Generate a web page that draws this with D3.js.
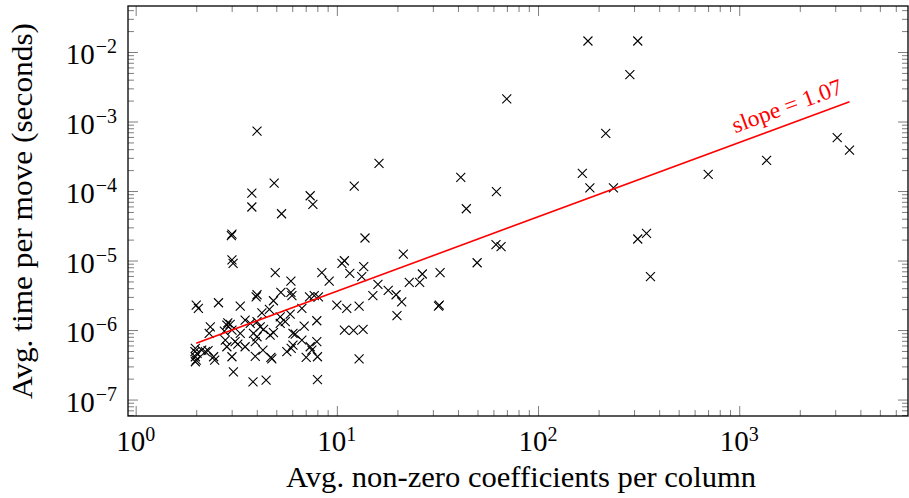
<!DOCTYPE html>
<html lang="en">
<head>
<meta charset="UTF-8">
<script src="https://cdn.jsdelivr.net/npm/d3@7"></script>
<style>
  body { margin: 0; background: #fff; }
  svg { display: block; font-family: "Liberation Serif", "DejaVu Serif", serif; }
</style>
</head>
<body>
<div id="chart"></div>
<script>
// avg. non-zero coefficients per column (x) and avg. time per move in seconds (y)
const coeffs = [
  177, 313, 286, 69.9, 217, 4.01, 16.2, 166, 181, 237,
  41.3, 62.1, 44.0, 12.2, 7.37, 7.60, 4.88, 3.78, 3.78, 5.31,
  701, 1368, 3069, 3533, 313, 346, 362, 61.8, 65.5, 49.8,
  32.6, 32.3, 32.0, 13.8, 21.4, 10.6, 10.9, 11.6, 13.6, 13.3,
  16.0, 15.1, 18.0, 19.7, 21.0, 22.9, 25.8, 26.6, 10.0, 11.2,
  12.9, 19.9, 10.9, 12.1, 13.5, 12.9, 4.94, 5.91, 5.27, 5.91,
  5.98, 4.84, 4.24, 4.62, 6.70, 8.42, 9.16, 7.31, 7.72, 8.10,
  5.23, 5.54, 5.23, 5.86, 4.16, 4.84, 4.66, 4.32, 6.05, 6.21,
  6.88, 7.95, 6.70, 6.05, 5.93, 5.64, 7.37, 7.95, 7.51, 4.29,
  4.70, 4.75, 7.04, 8.01, 4.45, 8.01, 3.01, 2.99, 3.01, 3.05,
  2.00, 2.05, 2.58, 3.31, 3.97, 4.01, 2.35, 2.87, 2.84, 2.95,
  3.50, 3.71, 4.01, 2.32, 2.76, 3.01, 3.31, 3.85, 4.01, 2.79,
  3.12, 3.22, 3.93, 2.84, 3.50, 1.98, 1.97, 2.02, 1.98, 2.13,
  2.22, 2.29, 2.44, 2.47, 2.00, 3.01, 3.93, 1.98, 3.06, 3.83
];
const times = [
  1.44e-2, 1.44e-2, 4.71e-3, 2.11e-3, 6.76e-4, 7.30e-4, 2.49e-4, 1.79e-4, 1.11e-4, 1.11e-4,
  1.57e-4, 9.77e-5, 5.56e-5, 1.18e-4, 8.55e-5, 6.44e-5, 1.30e-4, 9.35e-5, 5.89e-5, 4.71e-5,
  1.74e-4, 2.77e-4, 5.85e-4, 3.89e-4, 2.04e-5, 2.46e-5, 5.89e-6, 1.70e-5, 1.59e-5, 9.29e-6,
  6.71e-6, 2.29e-6, 2.21e-6, 2.11e-5, 1.24e-5, 9.12e-6, 9.93e-6, 6.55e-6, 8.15e-6, 5.89e-6,
  4.55e-6, 3.13e-6, 3.72e-6, 3.22e-6, 2.55e-6, 4.85e-6, 4.85e-6, 6.40e-6, 2.29e-6, 2.05e-6,
  2.21e-6, 1.61e-6, 1.00e-6, 9.9e-7, 1.02e-6, 3.86e-7, 6.71e-6, 5.07e-6, 3.48e-6, 3.48e-6,
  3.13e-6, 2.64e-6, 1.77e-6, 1.99e-6, 2.05e-6, 6.71e-6, 5.07e-6, 3.01e-6, 3.13e-6, 3.01e-6,
  1.55e-6, 1.32e-6, 1.25e-6, 1.70e-6, 1.11e-6, 9.15e-7, 8.47e-7, 1.02e-6, 8.97e-7, 8.76e-7,
  1.14e-6, 1.36e-6, 7.18e-7, 6.08e-7, 5.46e-7, 4.88e-7, 5.75e-7, 6.79e-7, 5.15e-7, 5.15e-7,
  4.05e-7, 3.86e-7, 4.05e-7, 4.13e-7, 1.91e-7, 1.94e-7, 2.40e-5, 2.28e-5, 1.02e-5, 9.12e-6,
  2.29e-6, 2.05e-6, 2.47e-6, 2.21e-6, 3.01e-6, 3.22e-6, 1.11e-6, 1.27e-6, 1.18e-6, 1.21e-6,
  1.39e-6, 1.25e-6, 1.32e-6, 8.97e-7, 9.68e-7, 1.00e-6, 8.97e-7, 8.97e-7, 8.01e-7, 7.18e-7,
  6.79e-7, 6.29e-7, 6.79e-7, 5.75e-7, 5.75e-7, 5.46e-7, 4.88e-7, 4.62e-7, 4.13e-7, 5.15e-7,
  4.88e-7, 5.04e-7, 4.13e-7, 3.70e-7, 3.70e-7, 4.13e-7, 4.19e-7, 3.50e-7, 2.51e-7, 1.80e-7
];
const xTickExps = [0, 1, 2, 3];
const yTickExps = [-7, -6, -5, -4, -3, -2];

// power-law fit  time = fitCoef * coeffs^fitSlope
const fitSlope = 1.07;
const fitCoef = 3.08e-7;
const fitRange = [2, 3533];

const width = 909, height = 498;
const margin = { top: 6, right: 1, bottom: 82, left: 128 };

const svg = d3.select("#chart").append("svg")
    .attr("width", width)
    .attr("height", height);

const x = d3.scaleLog().domain([0.916, 6900]).range([margin.left, width - margin.right]);
const y = d3.scaleLog().domain([5.8e-8, 0.0459]).range([height - margin.bottom, margin.top]);

const isPow10 = v => Math.abs(Math.log10(v) - Math.round(Math.log10(v))) < 1e-6;
const xMinor = x.ticks().filter(v => !isPow10(v));
const yMinor = y.ticks().filter(v => !isPow10(v));
const xMajor = xTickExps.map(e => Math.pow(10, e));
const yMajor = yTickExps.map(e => Math.pow(10, e));

// inward ticks on all four sides
function drawTicks(axis, transform) {
    svg.append("g")
        .attr("transform", transform)
        .call(axis.tickFormat("").tickSizeOuter(0))
        .call(g => g.select(".domain").remove())
        .call(g => g.selectAll(".tick line").attr("stroke", "#7f7f7f").attr("stroke-width", 1));
}
const bottomY = height - margin.bottom, rightX = width - margin.right;
[[xMinor, 6], [xMajor, 10]].forEach(([vals, len]) => {
    drawTicks(d3.axisBottom(x).tickValues(vals).tickSize(-len), `translate(0,${bottomY})`);
    drawTicks(d3.axisTop(x).tickValues(vals).tickSize(-len), `translate(0,${margin.top})`);
});
[[yMinor, 6], [yMajor, 10]].forEach(([vals, len]) => {
    drawTicks(d3.axisLeft(y).tickValues(vals).tickSize(-len), `translate(${margin.left},0)`);
    drawTicks(d3.axisRight(y).tickValues(vals).tickSize(-len), `translate(${rightX},0)`);
});

// frame
svg.append("rect")
    .attr("x", margin.left)
    .attr("y", margin.top)
    .attr("width", rightX - margin.left)
    .attr("height", bottomY - margin.top)
    .attr("fill", "none")
    .attr("stroke", "#000")
    .attr("stroke-width", 1.3);

// tick labels 10^e
const expText = e => (e < 0 ? "\u2212" : "") + Math.abs(e);
function powLabel(sel, e, rise) {
    sel.append("tspan").text("10");
    sel.append("tspan").attr("dx", e < 0 ? 1 : 0).attr("dy", -rise).style("font-size", "20px").text(expText(e));
}
xTickExps.forEach(e => {
    const t = svg.append("text")
        .attr("x", x(Math.pow(10, e)))
        .attr("y", bottomY + 35)
        .attr("text-anchor", "middle")
        .style("font-size", "29px");
    powLabel(t, e, 10);
});
yTickExps.forEach(e => {
    const t = svg.append("text")
        .attr("x", 117)
        .attr("y", y(Math.pow(10, e)) + 12)
        .attr("text-anchor", "end")
        .style("font-size", "29px");
    powLabel(t, e, 11);
});

// axis titles
svg.append("text")
    .attr("x", (margin.left + rightX) / 2 + 3)
    .attr("y", 487)
    .attr("text-anchor", "middle")
    .attr("textLength", 470)
    .attr("lengthAdjust", "spacingAndGlyphs")
    .style("font-size", "29px")
    .text("Avg. non-zero coefficients per column");

svg.append("text")
    .attr("transform", `translate(32,${(margin.top + bottomY) / 2}) rotate(-90)`)
    .attr("text-anchor", "middle")
    .attr("textLength", 376)
    .attr("lengthAdjust", "spacingAndGlyphs")
    .style("font-size", "29px")
    .text("Avg. time per move (seconds)");

// data marks (x crosses)
const pts = coeffs.map((c, i) => [c, times[i]]);
svg.append("g")
    .selectAll("path")
    .data(pts)
    .join("path")
        .attr("transform", d => `translate(${x(d[0])},${y(d[1])})`)
        .attr("d", "M-4.5,-4.5L4.5,4.5M-4.5,4.5L4.5,-4.5")
        .attr("fill", "none")
        .attr("stroke", "#000")
        .attr("stroke-width", 1.1);

// fit line
const fitPts = fitRange.map(v => [v, fitCoef * Math.pow(v, fitSlope)]);
svg.append("path")
    .datum(fitPts)
    .attr("d", d3.line().x(d => x(d[0])).y(d => y(d[1])))
    .attr("stroke", "#ff0000")
    .attr("stroke-width", 1.6)
    .attr("fill", "none");

const p0 = [x(fitPts[0][0]), y(fitPts[0][1])];
const p1 = [x(fitPts[1][0]), y(fitPts[1][1])];
const angle = Math.atan2(p1[1] - p0[1], p1[0] - p0[0]) * 180 / Math.PI;
svg.append("text")
    .attr("transform", `translate(${p1[0]},${p1[1]}) rotate(${angle})`)
    .attr("x", -2)
    .attr("y", -10)
    .attr("text-anchor", "end")
    .attr("textLength", 116)
    .attr("lengthAdjust", "spacingAndGlyphs")
    .attr("fill", "#ff0000")
    .style("font-size", "23px")
    .text("slope = 1.07");
</script>
</body>
</html>
